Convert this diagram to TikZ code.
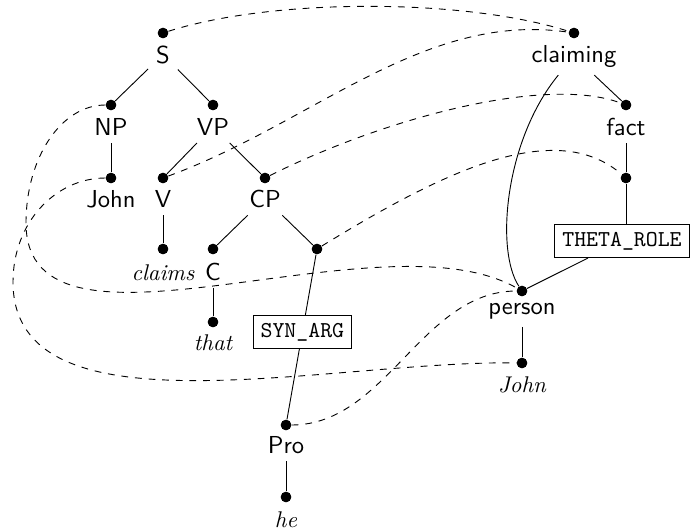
\documentclass[tikz,border=0pt]{standalone}
\usepackage{fontspec}
\begin{document}
\begin{tikzpicture}[x=0.44pt,y=-0.44pt,
  dot/.style={circle,fill=black,inner sep=0pt,minimum size=4.6pt},
  lab/.style={font=\sffamily\fontsize{10.8pt}{13pt}\selectfont,anchor=base},
  word/.style={font=\itshape,anchor=base},
  role/.style={draw,fill=white,font=\ttfamily,inner sep=3.33pt},
  link/.style={dashed}]
\useasboundingbox (0,0) rectangle (690,531);
% dots
\node[dot] (Sd) at (163,33) {};
\node[dot] (NPd) at (111,105) {};
\node[dot] (VPd) at (213,105) {};
\node[dot] (Johnd) at (111,178) {};
\node[dot] (Vd) at (163,178) {};
\node[dot] (CPd) at (265,178) {};
\node[dot] (claimsd) at (163,249) {};
\node[dot] (Cd) at (213,249) {};
\node[dot] (CPc) at (317,249) {};
\node[dot] (thatd) at (213,322) {};
\node[dot] (Prod) at (286,425) {};
\node[dot] (hed) at (286,497) {};
\node[dot] (claimingd) at (574,33) {};
\node[dot] (factd) at (626,105) {};
\node[dot] (factc) at (626,178) {};
\node[dot] (persond) at (522,291) {};
\node[dot] (John2d) at (522,363) {};
% labels
\node[lab] (S) at (163,63) {S};
\node[lab] (NP) at (111,135) {NP};
\node[lab] (VP) at (213,135) {VP};
\node[lab] (John) at (111,207) {John};
\node[lab] (V) at (163,207) {V};
\node[lab] (CP) at (265,207) {CP};
\node[word] (claims) at (163,280) {claims};
\node[lab] (C) at (213,280) {C};
\node[word] (that) at (213,350) {that};
\node[lab] (Pro) at (286,453) {Pro};
\node[word] (he) at (286,527) {he};
\node[lab] (claiming) at (574,62) {claiming};
\node[lab] (fact) at (626,135) {fact};
\node[lab] (person) at (522,314) {person};
\node[word] (John2) at (522,392) {John};
% dashed links
\coordinate (w1) at (26,223);
\coordinate (w2) at (13,282);
\draw[link] (Sd) .. controls (273,-2) and (464,-2) .. (claimingd);
\draw[link] (Vd) .. controls (313,123) and (424,11) .. (claimingd);
\draw[link] (CPd) .. controls (385,118) and (546,75) .. (factd);
\draw[link] (CPc) .. controls (447,169) and (556,118) .. (factc);
\draw[link] (NPd) .. controls (61,105) and (26,158) .. (w1) .. controls (26,380) and (380,210) .. (persond);
\draw[link] (Johnd) .. controls (56,178) and (13,222) .. (w2) .. controls (13,440) and (330,360) .. (John2d);
\draw[link] (Prod) .. controls (386,425) and (422,291) .. (persond);
% tree edges
\draw (S) -- (NPd);
\draw (S) -- (VPd);
\draw (NP) -- (Johnd);
\draw (VP) -- (Vd);
\draw (VP) -- (CPd);
\draw (V) -- (claimsd);
\draw (CP) -- (Cd);
\draw (CP) -- (CPc);
\draw (C) -- (thatd);
\draw (CPc) -- node[role,pos=0.47] (syn) {SYN\_ARG} (Prod);
\draw (Pro) -- (hed);
\draw (claiming) -- (factd);
\draw (claiming) .. controls (505,140) and (495,250) .. (persond);
\draw (fact) -- (factc);
\node[role] (theta) at (622,241) {THETA\_ROLE};
\draw (factc) -- (factc |- theta.north);
\draw (theta) -- (persond);
\draw (person) -- (John2d);
% redraw dots on top
\foreach \d in {Sd,NPd,VPd,Johnd,Vd,CPd,claimsd,Cd,CPc,thatd,Prod,hed,claimingd,factd,factc,persond,John2d}
  \fill (\d) circle (2.3pt);
\end{tikzpicture}
\end{document}
